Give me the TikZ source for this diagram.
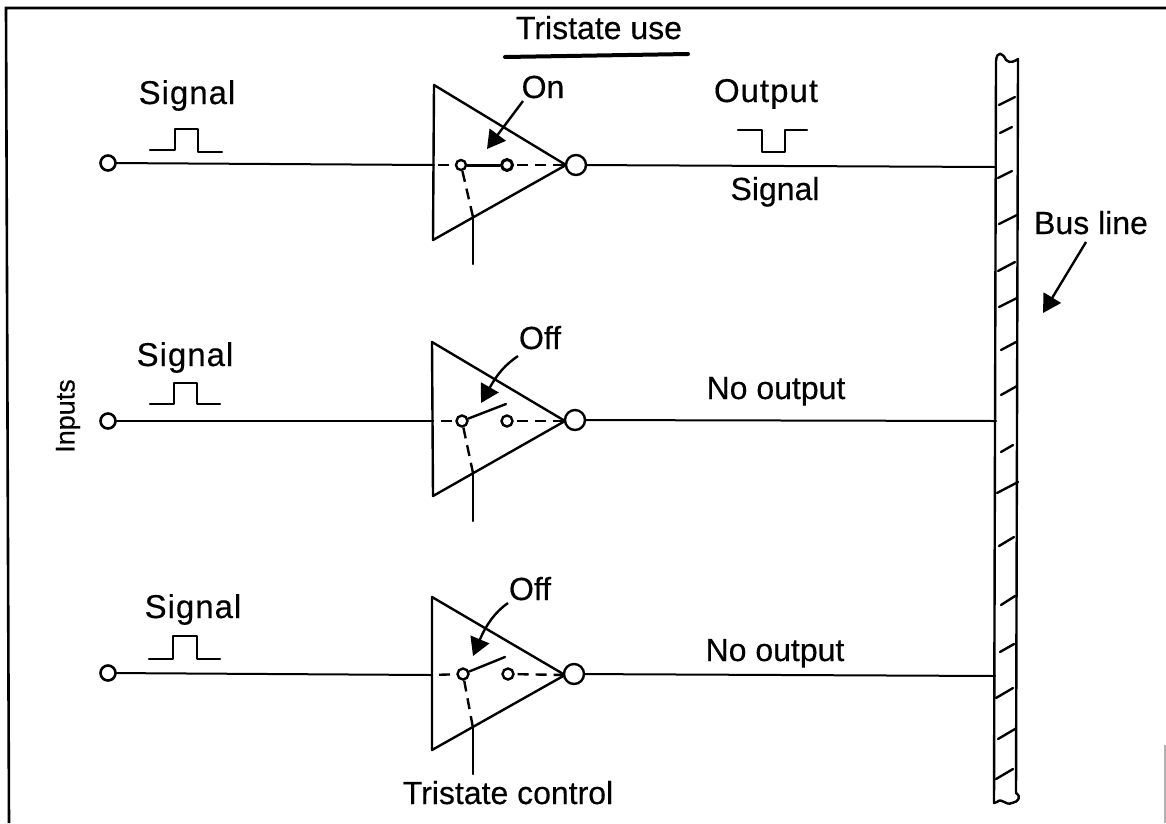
\documentclass[tikz,border=0pt]{standalone}
\usepackage{fontspec}
\setmainfont[FakeBold=0.35]{Liberation Sans}
\newfontfamily\widefont[FakeBold=0.35, LetterSpace=3]{Liberation Sans}
\usetikzlibrary{arrows.meta}

\begin{document}
\begin{tikzpicture}[
    x=1pt, y=-1pt,
    l/.style={line width=2pt, line cap=round},
    s/.style={line width=2.4pt, line join=round, line cap=round},
    d/.style={line width=2.4pt, dash pattern=on 11pt off 7pt},
    a/.style={line width=2.4pt, -{Triangle[length=18pt, width=20pt]}},
    t/.style={circle, draw, line width=2.6pt, fill=white, inner sep=0pt, minimum size=15pt},
    c/.style={circle, draw, line width=2.4pt, fill=white, inner sep=0pt, minimum size=#1},
    b/.style={circle, draw, line width=2.4pt, fill=white, inner sep=0pt, minimum size=20pt},
    lbl/.style={anchor=base, inner sep=0pt, font=\fontsize{32}{36}\selectfont},
    lblw/.style={anchor=base, inner sep=0pt, font=\widefont\fontsize{33}{36}\selectfont},
]
\useasboundingbox (0,0) rectangle (1166,823);

% Frame
\coordinate (fl) at (9,823);
\coordinate (ftl) at (6,8);
\coordinate (ftr) at (1166,8);
\draw[line width=2.6pt, line join=miter] (fl) -- (ftl) -- (ftr);
\coordinate (frt) at (1165,745);
\coordinate (frb) at (1165,823);
\draw[line width=1.2pt, gray!60] (frt) -- (frb);

% Title
\node[lbl] (title) at (599,39) {Tristate use};
\coordinate (ul) at (505,57);
\coordinate (ur) at (688,54);
\draw[line width=4pt, line cap=round] (ul) -- (ur);
\node[lbl, rotate=90, anchor=center, font=\fontsize{27}{30}\selectfont] (inputs) at (68,416) {Inputs};

% Bus
\coordinate (bustl) at (996,61);
\coordinate (bustr) at (1018,59);
\coordinate (busbr) at (1016,793);
\coordinate (busbl) at (994,803);
\draw[line width=2.4pt, line join=round] (bustl) .. controls (997,50) and (1003,53) .. (1006,60)
    .. controls (1010,64) and (1015,61) .. (bustr) -- (busbr)
    .. controls (1022,797) and (1018,802) .. (1012,803)
    .. controls (1005,806) and (1002,797) .. (997,802) -- (busbl) -- cycle;
\draw[s] (999,105) -- (1015,97);
\draw[s] (1000,133) -- (1012,127);
\draw[s] (998,178) -- (1012,171);
\draw[s] (999,224) -- (1017,215);
\draw[s] (998,271) -- (1015,262);
\draw[s] (999,307) -- (1017,298);
\draw[s] (1001,350) -- (1016,342);
\draw[s] (1001,395) -- (1017,386);
\draw[s] (1001,452) -- (1013,445);
\draw[s] (997,493) -- (1018,482);
\draw[s] (999,546) -- (1014,537);
\draw[s] (1001,605) -- (1015,596);
\draw[s] (1000,652) -- (1014,644);
\draw[s] (996,698) -- (1013,688);
\draw[s] (998,739) -- (1015,729);
\draw[s] (996,779) -- (1013,769);
\node[lbl] (busl) at (1091,234) {Bus line};
\coordinate (busa) at (1086,242);
\coordinate (bust) at (1043,313);
\draw[a] (busa) -- (bust);

% Gate 1, on
\node[lblw] (sig1) at (187,104) {Signal};
\node[t] (in1) at (108,163) {};
\draw[s] (150,150) -- (175,150) -- (175,129) -- (198,129) -- (198,152) -- (222,152);
\coordinate (g1a) at (434,85);
\coordinate (g1b) at (433,240);
\coordinate (g1c) at (566,165);
\coordinate (g1l) at (434,165);
\coordinate (g1e) at (473,217);
\coordinate (g1f) at (473,264);
\draw[s] (g1a) -- (g1b) -- (g1c) -- cycle;
\node[c=10pt] (p1) at (461,165) {};
\node[c=11pt, line width=3pt] (q1) at (507,165) {};
\node[b] (n1) at (576,165) {};
\coordinate (bus1) at (996,167);
\draw[l] (in1) -- (g1l);
\draw[d, dash phase=-4pt] (g1l) -- (p1);
\draw[s, line width=3pt] (p1) -- (q1);
\draw[d, dash phase=-3pt] (q1) -- (g1c);
\draw[d] (p1) -- (g1e);
\draw[l] (g1e) -- (g1f);
\draw[l] (n1) -- (bus1);
\node[lbl] (on1) at (543,98) {On};
\coordinate (on1a) at (523,101);
\coordinate (on1t) at (487,149);
\draw[a] (on1a) -- (on1t);
\node[lblw] (out1) at (766,102) {Output};
\draw[s] (738,130) -- (762,130) -- (762,152) -- (785,152) -- (785,130) -- (807,130);
\node[lbl] (sig1o) at (775,200) {Signal};

% Gate 2, off
\node[lblw] (sig2) at (185,366) {Signal};
\node[t] (in2) at (108,421) {};
\draw[s] (150,404) -- (174,404) -- (174,383) -- (197,383) -- (197,404) -- (220,404);
\coordinate (g2a) at (432,342);
\coordinate (g2b) at (433,496);
\coordinate (g2c) at (565,421);
\coordinate (g2l) at (433,421);
\coordinate (g2e) at (473,473);
\coordinate (g2f) at (473,521);
\coordinate (g2s) at (506,404);
\draw[s] (g2a) -- (g2b) -- (g2c) -- cycle;
\node[c=11pt] (p2) at (462,421) {};
\node[c=11pt] (q2) at (507,421) {};
\node[b] (n2) at (575,420) {};
\coordinate (bus2) at (996,421);
\draw[l] (in2) -- (g2l);
\draw[d, dash phase=-8pt] (g2l) -- (p2);
\draw[s] (p2) -- (g2s);
\draw[d, dash phase=-3pt] (q2) -- (g2c);
\draw[d] (p2) -- (g2e);
\draw[l] (g2e) -- (g2f);
\draw[l] (n2) -- (bus2);
\node[lbl] (off2) at (540,349) {Off};
\coordinate (off2a) at (518,356);
\coordinate (off2t) at (481,403);
\draw[a] (off2a) .. controls (505,365) and (498,373) .. (off2t);
\node[lbl] (no2) at (776,399) {No output};

% Gate 3, off
\node[lblw] (sig3) at (193,618) {Signal};
\node[t] (in3) at (108,673) {};
\draw[s] (149,659) -- (173,659) -- (173,636) -- (197,636) -- (197,659) -- (220,659);
\coordinate (g3a) at (432,597);
\coordinate (g3b) at (432,750);
\coordinate (g3c) at (565,675);
\coordinate (g3l) at (432,675);
\coordinate (g3e) at (473,728);
\coordinate (g3f) at (473,774);
\coordinate (g3s) at (505,657);
\draw[s] (g3a) -- (g3b) -- (g3c) -- cycle;
\node[c=11pt] (p3) at (463,674) {};
\node[c=11pt] (q3) at (508,674) {};
\node[b] (n3) at (574,674) {};
\coordinate (bus3) at (995,676);
\draw[l] (in3) -- (g3l);
\draw[d, dash phase=-7pt] (g3l) -- (p3);
\draw[s] (p3) -- (g3s);
\draw[d, dash phase=-3pt] (q3) -- (g3c);
\draw[d] (p3) -- (g3e);
\draw[l] (g3e) -- (g3f);
\draw[l] (n3) -- (bus3);
\node[lbl] (off3) at (530,600) {Off};
\coordinate (off3a) at (508,603);
\coordinate (off3t) at (473,656);
\draw[a] (off3a) .. controls (495,612) and (486,625) .. (off3t);
\node[lbl] (no3) at (775,661) {No output};
\node[lbl] (ctl) at (508,804) {Tristate control};
\end{tikzpicture}
\end{document}
